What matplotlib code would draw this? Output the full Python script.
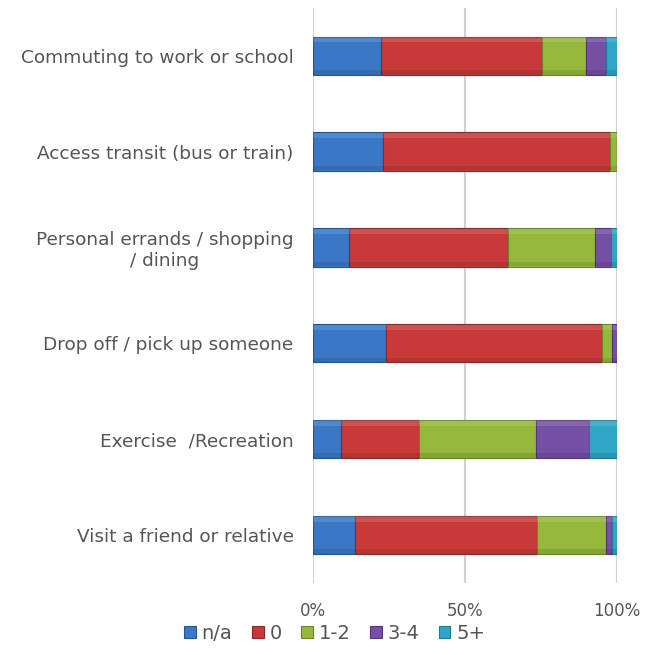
import numpy as np
import matplotlib.pyplot as plt

categories = [
    "Commuting to work or school",
    "Access transit (bus or train)",
    "Personal errands / shopping\n/ dining",
    "Drop off / pick up someone",
    "Exercise  /Recreation",
    "Visit a friend or relative",
]
series_names = ["n/a", "0", "1-2", "3-4", "5+"]

# percent of respondents per trip purpose
na_vals = [22.4, 23.1, 11.8, 24.0, 9.2, 13.8]
zero_vals = [53.1, 74.6, 52.3, 71.0, 25.8, 60.0]
one_two_vals = [14.2, 2.3, 28.6, 3.3, 38.4, 22.6]
three_four_vals = [6.7, 0.0, 5.2, 1.7, 17.5, 1.9]
five_plus_vals = [3.6, 0.0, 2.1, 0.0, 9.1, 1.7]

colors = ["#3a78c6", "#c83a3a", "#95b83c", "#7650a4", "#2fa6c6"]
edges = ["#24568f", "#8e2626", "#6a842a", "#523578", "#1e7895"]

fig = plt.figure(figsize=(6.5, 6.55), dpi=100)
ax = fig.add_axes([0.4815, 0.110, 0.4677, 0.878])

bar_h = 0.4
y = np.arange(len(categories))
left = np.zeros(len(categories))
for name, vals, c, e in zip(series_names,
                            [na_vals, zero_vals, one_two_vals, three_four_vals, five_plus_vals],
                            colors, edges):
    vals = np.array(vals)
    ax.barh(y, vals, left=left, height=bar_h, color=c, edgecolor=e,
            linewidth=0.8, label=name, zorder=3)
    # soft bevel: light band on top, dark band at bottom
    ax.barh(y - bar_h * 0.42, vals, left=left, height=bar_h * 0.14,
            color="white", alpha=0.12, linewidth=0, zorder=4)
    ax.barh(y + bar_h * 0.43, vals, left=left, height=bar_h * 0.12,
            color="black", alpha=0.10, linewidth=0, zorder=4)
    left += vals

ax.set_xlim(0, 100)
ax.set_ylim(len(categories) - 0.5, -0.5)
ax.set_xticks([0, 50, 100])
ax.set_xticklabels(["0%", "50%", "100%"])
ax.set_yticks(y)
ax.set_yticklabels(categories)
for lbl in ax.get_yticklabels():
    lbl.set_multialignment("center")

ax.grid(axis="x", color="#d0d0d0", linewidth=1.5, zorder=0)
for s in ax.spines.values():
    s.set_visible(False)
ax.tick_params(axis="both", length=0, colors="#555555")
ax.tick_params(axis="y", labelsize=13.3, pad=14)
ax.tick_params(axis="x", labelsize=12, pad=14)

fig.legend(loc="center", bbox_to_anchor=(0.515, 0.033), ncol=5, frameon=False,
           fontsize=14, handlelength=0.6, handleheight=0.6, handletextpad=0.3,
           columnspacing=1.0, labelcolor="#555555")

plt.savefig("out.png", dpi=100)
